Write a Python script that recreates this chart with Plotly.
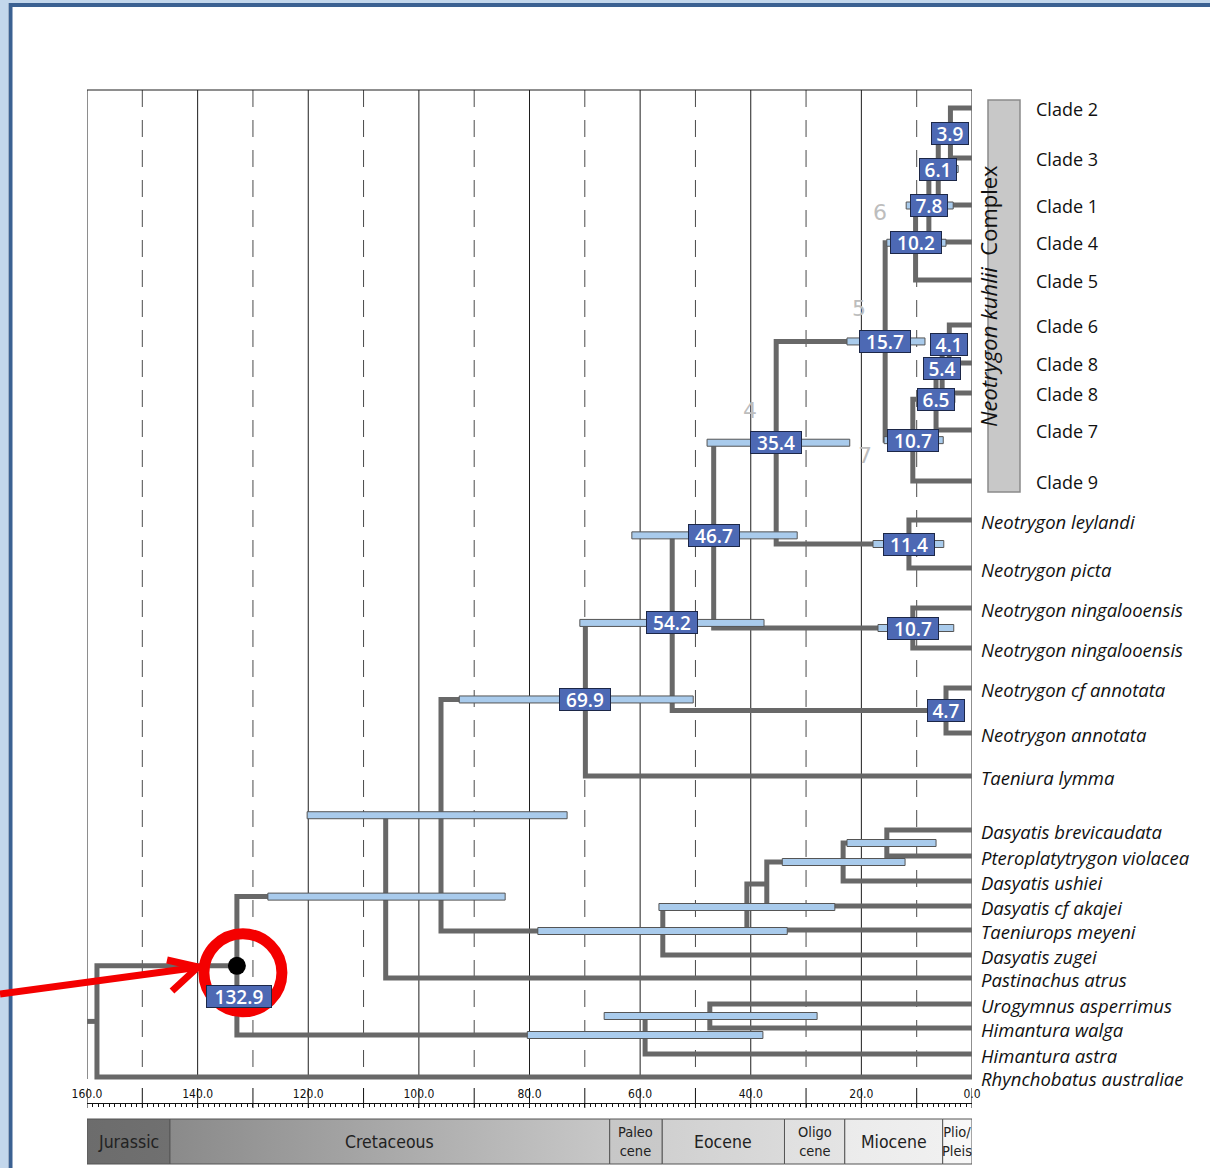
import plotly.graph_objects as go

W, H = 1210, 1168
PX0, PX1 = 87, 972          # pixel extent of the time axis

# ---------------- data ----------------
tip_names = ["Clade 2", "Clade 3", "Clade 1", "Clade 4", "Clade 5", "Clade 6", "Clade 8", "Clade 8",
             "Clade 7", "Clade 9",
             "Neotrygon leylandi", "Neotrygon picta", "Neotrygon ningalooensis", "Neotrygon ningalooensis",
             "Neotrygon cf annotata", "Neotrygon annotata", "Taeniura lymma",
             "Dasyatis brevicaudata", "Pteroplatytrygon violacea", "Dasyatis ushiei", "Dasyatis cf akajei",
             "Taeniurops meyeni", "Dasyatis zugei", "Pastinachus atrus", "Urogymnus asperrimus",
             "Himantura walga", "Himantura astra", "Rhynchobatus australiae"]
tip_row = [108, 158, 205, 242, 280, 325, 363, 393, 430, 481, 520, 568, 608, 648, 688, 733, 776,
           830, 856, 881, 906, 930, 955, 978, 1004, 1028, 1054, 1077]
tip_group = ["clade"] * 10 + ["species"] * 18

# internal nodes (children: int = tip index, str = node name)
node_names = ["n39", "n61", "n78", "n102", "n41", "n54", "n65", "n107k", "n157", "n114", "n354",
              "n107n", "n467", "n47", "n542", "n699", "n154", "n233", "n371", "n407", "n560",
              "n960", "n1060", "n474", "n591", "n1329", "root"]
node_child_a = [0, "n39", "n61", "n78", 5, "n41", "n54", "n65", "n102", 10, "n157",
                12, "n354", 14, "n467", "n542", 17, "n154", "n233", "n371", "n407",
                "n699", "n960", 24, "n474", "n1060", "n1329"]
node_child_b = [1, 2, 3, 4, 6, 7, 8, 9, "n107k", 11, "n114",
                13, "n107n", 15, "n47", 16, 18, 19, 20, 21, 22,
                "n560", 23, 25, 26, "n591", 27]
node_age = [3.9, 6.1, 7.8, 10.2, 4.1, 5.4, 6.5, 10.7, 15.7, 11.4, 35.4,
            10.7, 46.7, 4.7, 54.2, 69.9, 15.4, 23.3, 37.1, 40.7, 55.9,
            96.0, 106.0, 47.4, 59.1, 132.9, 158.2]
node_label = ["3.9", "6.1", "7.8", "10.2", "4.1", "5.4", "6.5", "10.7", "15.7", "11.4", "35.4",
              "10.7", "46.7", "4.7", "54.2", "69.9", "", "", "", "", "",
              "", "", "", "", "132.9", ""]
hpd_old = [5.5, 9.2, 11.9, 15.4, 6.0, 7.6, 9.6, 15.9, 22.6, 17.9, 47.9,
           17.0, 61.5, 6.6, 70.9, 92.7, 22.6, 34.3, None, 56.6, 78.5,
           120.2, 127.3, 66.5, 80.4, None, None]
hpd_young = [2.6, 2.5, 3.4, 4.7, 2.4, 3.2, 3.1, 5.2, 8.5, 5.1, 22.1,
             3.3, 31.6, 3.2, 37.6, 50.4, 6.5, 12.1, None, 24.8, 33.4,
             73.2, 84.4, 28.0, 37.8, None, None]
root_stem_start = 160.0

period_names = ["Jurassic", "Cretaceous", "Paleo<br>cene", "Eocene", "Oligo<br>cene", "Miocene", "Plio/<br>Pleis"]
period_start = [160.0, 145.0, 65.5, 56.0, 33.9, 23.0, 5.3]
period_end = [145.0, 65.5, 56.0, 33.9, 23.0, 5.3, 0.0]
period_color = ["#6c6c6c", "#8a8a8a", "#c7c7c7", "#d0d0d0", "#e0e0e0", "#ebebeb", "#f6f6f6"]
period_color2 = ["#707070", "#c8c8c8", "#c9c9c9", "#dadada", "#e4e4e4", "#f0f0f0", "#f8f8f8"]

node_numbers = ["6", "5", "4", "7"]
node_number_age = [16.6, 20.5, 40.2, 19.3]
node_number_row = [212, 308, 410, 455]

# ---------------- tree layout ----------------
age_of = dict(zip(node_names, node_age))
node_y = {}


def pos(ref):
    if isinstance(ref, int):
        return 0.0, tip_row[ref]
    return age_of[ref], node_y[ref]


bx, by = [], []
for name, ca, cb, age in zip(node_names, node_child_a, node_child_b, node_age):
    xa, ya = pos(ca)
    xb, yb = pos(cb)
    node_y[name] = (ya + yb) / 2.0
    bx += [xa, age, age, xb, None]
    by += [ya, ya, yb, yb, None]
# root stem
bx += [root_stem_start, age_of["root"], None]
by += [node_y["root"], node_y["root"], None]


def pxx(x):
    return x / W


COND = "Liberation Sans Narrow, DejaVu Sans Condensed, sans-serif"

fig = go.Figure()

shapes = []
annotations = []

# frame
shapes.append(dict(type="rect", xref="paper", yref="y", x0=0, x1=pxx(8), y0=0, y1=H,
                   fillcolor="#c3d7ec", line=dict(width=0), layer="below"))
shapes.append(dict(type="rect", xref="paper", yref="y", x0=0, x1=1, y0=0, y1=3,
                   fillcolor="#c3d7ec", line=dict(width=0), layer="below"))
shapes.append(dict(type="path", xref="paper", yref="y",
                   path=f"M {pxx(10.5)},{H} L {pxx(10.5)},5 L 1,5",
                   line=dict(color="#3b6192", width=4), layer="below"))

# grid lines
for v in range(0, 161, 10):
    solid = (v % 20 == 0)
    shapes.append(dict(type="line", xref="x", yref="y", x0=v, x1=v, y0=90, y1=1079,
                       line=dict(color="#1e1e1e" if solid else "#4a4a4a", width=1,
                                 dash="solid" if solid else "17px,13px"),
                       layer="below"))
    # tall ruler ticks
    shapes.append(dict(type="line", xref="x", yref="y", x0=v, x1=v, y0=1088, y1=1108,
                       line=dict(color="#111", width=1), layer="below"))
shapes.append(dict(type="line", xref="x", yref="y", x0=160, x1=0, y0=90, y1=90,
                   line=dict(color="#1e1e1e", width=1), layer="below"))

# geological time scale
for nm, s, e, c1, c2 in zip(period_names, period_start, period_end, period_color, period_color2):
    fig.add_trace(go.Scatter(x=[s, e, e, s, s], y=[1119, 1119, 1164, 1164, 1119], mode="lines",
                             fill="toself", fillgradient=dict(type="horizontal",
                                                              colorscale=[[0, c1], [1, c2]]),
                             line=dict(color="#555555", width=1), hoverinfo="skip", showlegend=False))
    two = "<br>" in nm
    annotations.append(dict(x=(s + e) / 2, y=1141.5, xref="x", yref="y", text=nm, showarrow=False,
                            font=dict(family=COND, size=14.5 if two else 17.5, color="#222"),
                            align="center"))

# branches
fig.add_trace(go.Scatter(x=bx, y=by, mode="lines", line=dict(color="#686868", width=5),
                         hoverinfo="skip", showlegend=False))

# HPD bars
for name, lo, hi in zip(node_names, hpd_old, hpd_young):
    if lo is None:
        continue
    yv = node_y[name]
    shapes.append(dict(type="rect", xref="x", yref="y", x0=lo, x1=hi, y0=yv - 3.5, y1=yv + 3.5,
                       fillcolor="#a9cbec", line=dict(color="#555", width=1), layer="above"))

# node age labels
for name, lab in zip(node_names, node_label):
    if not lab:
        continue
    nd = len(lab.replace(".", ""))
    ysh = -31 if name == "n1329" else 0
    xsh = 2 if name == "n1329" else 0
    annotations.append(dict(x=age_of[name], y=node_y[name], xref="x", yref="y", text=lab,
                            showarrow=False, bgcolor="#4d69b4", bordercolor="#1c2747", borderwidth=1,
                            borderpad=0, width=14 * nd + 8, height=21, yshift=ysh, xshift=xsh,
                            font=dict(family="Open Sans", size=19, color="white", weight=600)))

# grey node numbers
for t, a, r in zip(node_numbers, node_number_age, node_number_row):
    annotations.append(dict(x=a, y=r, xref="x", yref="y", text=t, showarrow=False,
                            font=dict(family="DejaVu Sans", size=22, color="#bdbdbd")))

# tip labels
for nm, r, g in zip(tip_names, tip_row, tip_group):
    if g == "clade":
        annotations.append(dict(x=0, y=r + 1, xref="x", yref="y", text=nm, showarrow=False,
                                xanchor="left", xshift=62,
                                font=dict(family="Open Sans", size=18, color="#111")))
    else:
        annotations.append(dict(x=0, y=r + 1, xref="x", yref="y", text="<i>" + nm + "</i>",
                                showarrow=False, xanchor="left", xshift=7,
                                font=dict(family="Open Sans", size=18.5, color="#111")))

# kuhlii complex box
shapes.append(dict(type="rect", xref="paper", yref="y", x0=pxx(988), x1=pxx(1020), y0=100, y1=492,
                   fillcolor="#c8c8c8", line=dict(color="#8a8a8a", width=1.5), layer="below"))
annotations.append(dict(x=pxx(1005), y=296, xref="paper", yref="y",
                        text="<i>Neotrygon kuhlii</i>  Complex", textangle=-90, showarrow=False,
                        font=dict(family="Open Sans", size=22, color="#111")))

# highlighted root of Dasyatidae: black dot, red ring and arrow
fig.add_trace(go.Scatter(x=[age_of["n1329"]], y=[node_y["n1329"]], mode="markers",
                         marker=dict(color="black", size=18), hoverinfo="skip", showlegend=False))
shapes.append(dict(type="circle", xref="x", yref="y", xsizemode="pixel", ysizemode="pixel",
                   xanchor=age_of["n1329"], yanchor=node_y["n1329"],
                   x0=6 - 39, x1=6 + 39, y0=-7 - 39, y1=-7 + 39,
                   line=dict(color="#f40000", width=11), layer="above"))
shapes.append(dict(type="path", xref="paper", yref="y",
                   path=f"M 0,994 L {pxx(196)},967.5", line=dict(color="#f40000", width=7),
                   layer="above"))
shapes.append(dict(type="path", xref="paper", yref="y",
                   path=f"M {pxx(167)},960 L {pxx(198)},967 L {pxx(172)},991",
                   line=dict(color="#f40000", width=7), layer="above"))

fig.update_layout(
    width=W, height=H, autosize=False,
    margin=dict(l=0, r=0, t=0, b=0, pad=0, autoexpand=False),
    paper_bgcolor="white", plot_bgcolor="rgba(0,0,0,0)",
    showlegend=False,
    shapes=shapes, annotations=annotations,
    xaxis=dict(domain=[PX0 / W, PX1 / W], range=[160, 0], anchor="free", position=(H - 1103) / H,
               side="top", automargin=False,
               showgrid=False, zeroline=False, showline=True, linecolor="#111", linewidth=1,
               ticks="inside", ticklen=4, tickwidth=1, tickcolor="#111",
               tickmode="linear", tick0=0, dtick=20, tickformat=".1f",
               tickfont=dict(family=COND, size=12, color="#111"),
               minor=dict(ticks="inside", ticklen=3, dtick=1, tick0=0, tickcolor="#111", tickwidth=1,
                          showgrid=False),
               fixedrange=True),
    yaxis=dict(domain=[0, 1], range=[H, 0], visible=False, fixedrange=True, automargin=False),
)

fig.write_html("out.html", config={"displayModeBar": False},
               post_script="document.body.style.margin='0';document.body.style.padding='0';"
                           "document.documentElement.style.overflow='hidden';"
                           "document.body.style.overflow='hidden';")
